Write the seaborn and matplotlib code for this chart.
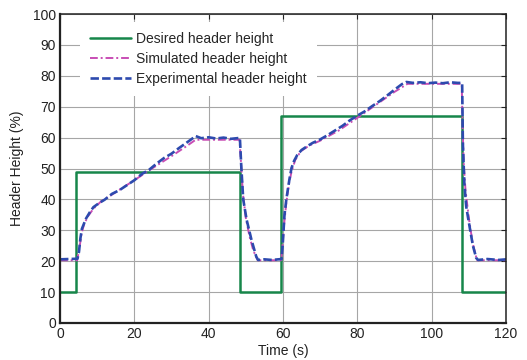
import matplotlib
matplotlib.use("Agg")
import matplotlib.pyplot as plt
import seaborn as sns

# Desired header height (step set-points)
t_desired = [0, 4.4, 48.4, 59.4, 108.1, 120]
h_desired = [10, 49, 10, 67, 10, 10]

# Simulated header height
t_sim = [0, 4.6, 5.2, 5.8, 6.5, 7.5, 9, 11, 13, 16, 20, 25, 30, 34, 36.5, 40, 44, 48.3,
         48.7, 49.2, 50, 51, 52, 53.2, 59.5, 59.8, 60.3, 60.9, 61.6, 62.3, 63.3, 64.8, 67,
         70, 75, 80, 85, 90, 93.5, 100, 108.1, 108.3, 108.6, 109.1, 110, 111, 112.2, 120]
h_sim = [20.3, 20.3, 24, 29, 32, 34.5, 37, 39.3, 40.8, 43.1, 46.2, 50.2, 54.0, 57.2, 59.3,
         59.3, 59.3, 59.3, 52, 42, 34, 28, 23.5, 20.3, 20.3, 24, 32, 39, 45, 49, 52.8, 55.6,
         57.4, 59.0, 62.3, 66.4, 70.6, 74.8, 77.4, 77.4, 77.4, 65, 52, 43, 34, 26, 20.3, 20.3]

# Experimental header height
t_exp = [0, 4.7, 5.1, 5.5, 5.9, 6.4, 7.0, 8.0, 9.0, 10.5, 12, 14, 16, 18, 20, 22, 24, 26,
         28, 30, 32, 34, 35.5, 36.5, 38, 40, 42, 44, 46, 48.4, 48.8, 49.3, 50.2, 51.5, 52.8,
         53.3, 55, 57, 59.6, 59.9, 60.4, 60.9, 61.4, 61.8, 62.3, 63, 63.8, 65, 66.5, 68, 70,
         72, 74, 76, 78, 80, 82, 84, 86, 88, 90, 92, 93.2, 95, 97, 99, 101, 103, 105, 107,
         108.2, 108.4, 108.8, 109.3, 109.8, 110.3, 111.1, 112.0, 112.5, 115, 118, 120]
h_exp = [20.6, 20.8, 23, 27.5, 30.5, 32, 33.8, 35.8, 37.5, 38.8, 39.9, 41.8, 43, 44.6, 46.2,
         48.2, 49.6, 51.6, 53.4, 54.8, 56.6, 58.3, 59.6, 60.5, 59.8, 60.1, 59.7, 60.0, 59.6,
         59.9, 50, 40, 33.5, 27, 21.5, 20.4, 20.6, 20.4, 20.7, 25, 35, 40, 44, 47, 50.2, 52.5,
         54.3, 56, 57.2, 58.3, 59.4, 60.8, 62.3, 63.8, 65.6, 67.1, 68.5, 70.2, 71.8, 73.6,
         75.5, 77.3, 78, 77.7, 77.9, 77.6, 77.8, 77.6, 77.9, 77.7, 77.7, 58, 45, 37.7, 34,
         30.5, 25, 21, 20.4, 20.7, 20.4, 20.6]

x_ticks = [0, 20, 40, 60, 80, 100, 120]
y_ticks = [0, 10, 20, 30, 40, 50, 60, 70, 80, 90, 100]

sns.set_style("white")
plt.rcParams["font.family"] = ["Liberation Sans", "DejaVu Sans"]
plt.rcParams["font.size"] = 10

fig = plt.figure(figsize=(5.27, 3.6), dpi=100)
ax = fig.add_axes([60 / 527, 1 - 323 / 360, 446 / 527, 309 / 360])

sns.lineplot(x=t_desired, y=h_desired, ax=ax, color="#17864a", lw=1.8,
             drawstyle="steps-post", estimator=None, sort=False,
             label="Desired header height")
sns.lineplot(x=t_sim, y=h_sim, ax=ax, color="#c84db4", lw=1.4,
             estimator=None, sort=False, label="Simulated header height")
ax.lines[-1].set_dashes([4, 1.5, 1, 1.5])
sns.lineplot(x=t_exp, y=h_exp, ax=ax, color="#2d4aae", lw=1.9,
             estimator=None, sort=False, label="Experimental header height")
ax.lines[-1].set_dashes([3.2, 1.2])

ax.set_xlim(0, 120)
ax.set_ylim(0, 100)
ax.set_xticks(x_ticks)
ax.set_yticks(y_ticks)
ax.grid(True, color="#a6a6a6", lw=0.8)
ax.set_axisbelow(True)
ax.tick_params(direction="in", length=3.5, width=0.8, top=True, right=True,
               labelsize=10, colors="#222222", pad=3)
for s in ax.spines.values():
    s.set_color("#222222")
    s.set_linewidth(1.1)
ax.spines["left"].set_linewidth(1.6)
ax.spines["bottom"].set_linewidth(1.6)

ax.set_xlabel("Time (s)", fontsize=10, color="#222222", labelpad=2)
ax.set_ylabel("Header Height (%)", fontsize=10, color="#222222", labelpad=6)

leg = ax.legend(loc="upper left", bbox_to_anchor=(0.045, 0.975), frameon=True,
                fancybox=False, framealpha=1, facecolor="white", edgecolor="none",
                fontsize=10, handlelength=2.9, handletextpad=0.35,
                labelspacing=0.42, borderpad=0.75, borderaxespad=0)

fig.savefig("out.png", dpi=100)
